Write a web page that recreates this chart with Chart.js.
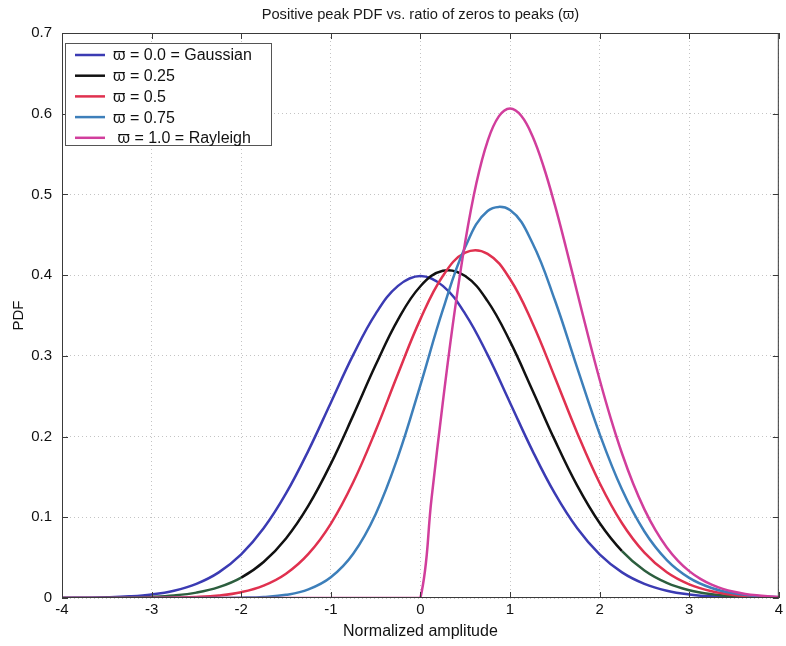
<!DOCTYPE html>
<html>
<head>
<meta charset="utf-8">
<title>Positive peak PDF</title>
<script src="https://cdn.jsdelivr.net/npm/chart.js@4.4.1/dist/chart.umd.min.js"></script>
<style>
  html, body { margin: 0; padding: 0; background: #fff; }
  #wrap { width: 786px; height: 646px; }
</style>
</head>
<body>
<div id="wrap"><canvas id="peakPdfChart" width="786" height="646"></canvas></div>
<script>
// normalized amplitude (x) and PDF values
const amplitude = [-4, -3.75, -3.5, -3.25, -3, -2.75, -2.5, -2.25, -2, -1.75, -1.5, -1.25, -1, -0.75, -0.5, -0.25,
  0, 0.25, 0.5, 0.75, 1, 1.25, 1.5, 1.75, 2, 2.25, 2.5, 2.75, 3, 3.25, 3.5, 3.75, 4];

const pdfGaussian = [0.00013, 0.00035, 0.00087, 0.00203, 0.00443, 0.00909, 0.01753, 0.03174, 0.05399, 0.08628, 0.12952,
  0.18265, 0.24197, 0.30114, 0.35207, 0.38667, 0.39894, 0.38667, 0.35207, 0.30114, 0.24197, 0.18265, 0.12952,
  0.08628, 0.05399, 0.03174, 0.01753, 0.00909, 0.00443, 0.00203, 0.00087, 0.00035, 0.00013];

const pdf025 = [0.00003, 0.00008, 0.00021, 0.00055, 0.00135, 0.0031, 0.00666, 0.0134, 0.02527, 0.0446, 0.07382,
  0.11444, 0.16624, 0.22626, 0.28856, 0.34488, 0.38627, 0.40546, 0.39887, 0.36779, 0.31787, 0.25751, 0.19556,
  0.13922, 0.09294, 0.05815, 0.03412, 0.01877, 0.00968, 0.00469, 0.00213, 0.00091, 0.00036];

const pdf05 = [0, 0, 0.00002, 0.00005, 0.00016, 0.00047, 0.00127, 0.00315, 0.00721, 0.0153, 0.03004,
  0.05461, 0.09191, 0.14334, 0.20721, 0.27778, 0.3455, 0.39893, 0.42783, 0.42641, 0.39518, 0.34075, 0.27353,
  0.20454, 0.14255, 0.09265, 0.05619, 0.03181, 0.01683, 0.00832, 0.00384, 0.00166, 0.00067];

const pdf075 = [0, 0, 0, 0, 0, 0, 0.00002, 0.00009, 0.00036, 0.00127, 0.00391,
  0.01068, 0.02573, 0.05488, 0.10386, 0.1751, 0.26388, 0.35683, 0.4348, 0.47947, 0.48063, 0.4399, 0.36915,
  0.28512, 0.20337, 0.13435, 0.08241, 0.04701, 0.025, 0.0124, 0.00574, 0.00249, 0.00101];

// Rayleigh has a corner at 0, so it gets its own, finer x grid
const amplitudeRayleigh = [-4, -0.125, 0, 0.125, 0.25, 0.375, 0.5, 0.625, 0.75, 0.875, 1, 1.125, 1.25, 1.375, 1.5, 1.625,
  1.75, 1.875, 2, 2.125, 2.25, 2.375, 2.5, 2.625, 2.75, 2.875, 3, 3.125, 3.25, 3.375, 3.5, 3.625, 3.75, 3.875, 4];

const pdfRayleigh = [0, 0, 0, 0.12403, 0.24231, 0.34954, 0.44125, 0.51411, 0.56613, 0.5967, 0.60653, 0.59749, 0.57229,
  0.53428, 0.48698, 0.43399, 0.37847, 0.32329, 0.27067, 0.22223, 0.17901, 0.1415, 0.10985, 0.08374, 0.06267,
  0.0461, 0.03333, 0.02366, 0.01653, 0.01134, 0.00765, 0.00508, 0.00332, 0.00213, 0.00134];

const seriesLabels = ["ϖ = 0.0 = Gaussian", "ϖ = 0.25", "ϖ = 0.5", "ϖ = 0.75", " ϖ = 1.0 = Rayleigh"];
const seriesColors = ["#3b3bb3", "#111111", "#e0314f", "#3d7fba", "#d13e9c"];

const xTicks = [-4, -3, -2, -1, 0, 1, 2, 3, 4];
const yTicks = [0, 0.1, 0.2, 0.3, 0.4, 0.5, 0.6, 0.7];

const FONT = "'Liberation Sans', Arial, Helvetica, sans-serif";

function toPoints(xs, ys) {
  return xs.map((x, i) => ({ x, y: ys[i] }));
}

// frame, inward tick marks, title and legend drawn the Matlab way
const matlabAxesPlugin = {
  id: "matlabAxes",
  afterDatasetsDraw(chart) {
    const { ctx, chartArea: a, scales } = chart;
    ctx.save();
    ctx.strokeStyle = "#3a3a3a";
    ctx.lineWidth = 1;
    ctx.strokeRect(a.left + 0.5, a.top + 0.5, a.right - a.left - 1, a.bottom - a.top - 1);

    ctx.beginPath();
    xTicks.forEach(v => {
      const px = Math.round(scales.x.getPixelForValue(v)) + 0.5;
      ctx.moveTo(px, a.bottom); ctx.lineTo(px, a.bottom - 6);
      ctx.moveTo(px, a.top); ctx.lineTo(px, a.top + 6);
    });
    yTicks.forEach(v => {
      const py = Math.round(scales.y.getPixelForValue(v)) + 0.5;
      ctx.moveTo(a.left, py); ctx.lineTo(a.left + 6, py);
      ctx.moveTo(a.right, py); ctx.lineTo(a.right - 6, py);
    });
    ctx.stroke();

    // title, centred over the axes
    ctx.fillStyle = "#1a1a1a";
    ctx.font = "14.7px " + FONT;
    ctx.textAlign = "center";
    ctx.textBaseline = "middle";
    ctx.fillText("Positive peak PDF vs. ratio of zeros to peaks (ϖ)", (a.left + a.right) / 2, 15);

    // legend box
    const bx = a.left + 3, by = a.top + 10, bw = 206, bh = 102;
    ctx.fillStyle = "#ffffff";
    ctx.fillRect(bx, by, bw, bh);
    ctx.strokeStyle = "#555555";
    ctx.strokeRect(bx + 0.5, by + 0.5, bw, bh);
    ctx.font = "16px " + FONT;
    ctx.textAlign = "left";
    chart.data.datasets.forEach((ds, i) => {
      const cy = by + 12 + i * 20.7;
      ctx.strokeStyle = ds.borderColor;
      ctx.lineWidth = 2.5;
      ctx.beginPath();
      ctx.moveTo(bx + 10, cy); ctx.lineTo(bx + 40, cy);
      ctx.stroke();
      ctx.fillStyle = "#111111";
      ctx.fillText(ds.label, bx + 48, cy + 1);
    });
    ctx.restore();
  }
};

const seriesY = [pdfGaussian, pdf025, pdf05, pdf075, pdfRayleigh];
const datasets = seriesY.map((ys, i) => ({
  label: seriesLabels[i],
  data: i === 4 ? toPoints(amplitudeRayleigh, ys) : toPoints(amplitude, ys),
  borderColor: seriesColors[i],
  borderWidth: 2.5,
  pointRadius: 0,
  tension: 0.4,
  fill: false,
  order: 4 - i,
}));

// the 0.25 curve prints dark green in its tails
datasets[1].segment = {
  borderColor: c => (c.p0.parsed.x < -2 || c.p0.parsed.x >= 2.25) ? "#2c5e3e" : undefined,
};

new Chart(document.getElementById("peakPdfChart"), {
  type: "line",
  data: { datasets },
  plugins: [matlabAxesPlugin],
  options: {
    responsive: false,
    animation: false,
    layout: { padding: { top: 33, right: 6, left: 0, bottom: 0 } },
    plugins: {
      legend: { display: false },
      title: { display: false },
      tooltip: { enabled: false },
    },
    scales: {
      x: {
        type: "linear",
        min: -4,
        max: 4,
        afterBuildTicks: s => { s.ticks = xTicks.map(v => ({ value: v })); },
        afterFit: s => { s.height = 48; },
        grid: { color: "#c4c4c4", lineWidth: 1, drawTicks: false },
        border: { display: false, dash: [1, 3] },
        ticks: { color: "#111", font: { family: FONT, size: 15 }, padding: 3, maxRotation: 0 },
        title: {
          display: true,
          text: "Normalized amplitude",
          color: "#111",
          font: { family: FONT, size: 16 },
          padding: { top: 0, bottom: 5 },
        },
      },
      y: {
        min: 0,
        max: 0.7,
        afterBuildTicks: s => { s.ticks = yTicks.map(v => ({ value: v })); },
        afterFit: s => { s.width = 62; },
        grid: { color: "#c4c4c4", lineWidth: 1, drawTicks: false },
        border: { display: false, dash: [1, 3] },
        ticks: {
          color: "#111",
          font: { family: FONT, size: 15 },
          padding: 10,
          callback: v => String(Math.round(v * 10) / 10),
        },
        title: {
          display: true,
          text: "PDF",
          color: "#111",
          font: { family: FONT, size: 15 },
          padding: { top: 10, bottom: 0 },
        },
      },
    },
  },
});
</script>
</body>
</html>
